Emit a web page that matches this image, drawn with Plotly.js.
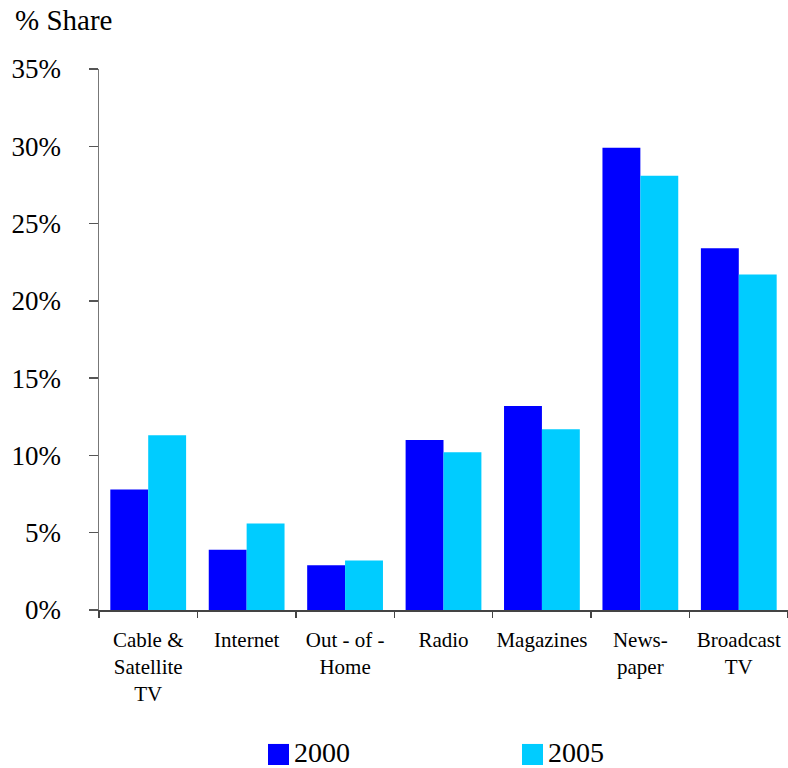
<!DOCTYPE html>
<html>
<head>
<meta charset="utf-8">
<script src="https://cdn.plot.ly/plotly-3.0.1.min.js"></script>
<style>html,body{margin:0;padding:0;background:#fff;}#chart{width:788px;height:768px;}</style>
</head>
<body>
<div id="chart"></div>
<script>
const categories = ["Cable & Satellite TV", "Internet", "Out-of-Home", "Radio", "Magazines", "Newspaper", "Broadcast TV"];
const tickLabels = ["Cable &amp;<br>Satellite<br>TV", "Internet", "Out - of -<br>Home", "Radio", "Magazines", "News-<br>paper", "Broadcast<br>TV"];
const share2000 = [7.8, 3.9, 2.9, 11.0, 13.2, 29.9, 23.4];
const share2005 = [11.3, 5.6, 3.2, 10.2, 11.7, 28.1, 21.7];
const seriesNames = ["2000", "2005"];
const seriesColors = ["#0000FF", "#00CCFF"];
const yTickStep = 5;
const yMax = 35;

const FONT = 'Liberation Serif, Times New Roman, Times, serif';

const traces = [share2000, share2005].map((vals, i) => ({
  type: 'bar',
  name: seriesNames[i],
  x: categories,
  y: vals,
  marker: {color: seriesColors[i], line: {width: 0}},
  showlegend: false,
  hoverinfo: 'x+y'
}));

// custom legend (large square swatches)
const legendX = [0.2453, 0.6139];
const swatchW = 0.0305;
const shapes = seriesNames.map((n, i) => ({
  type: 'rect', xref: 'paper', yref: 'paper',
  x0: legendX[i], x1: legendX[i] + swatchW, y0: -0.2865, y1: -0.2476,
  fillcolor: seriesColors[i], line: {width: 0}
}));
const annotations = seriesNames.map((n, i) => ({
  xref: 'paper', yref: 'paper', x: legendX[i] + swatchW + 0.006, y: -0.263,
  xanchor: 'left', yanchor: 'middle', text: n, showarrow: false, borderpad: 0,
  font: {family: FONT, size: 28, color: '#000'}
}));

const layout = {
  width: 788, height: 768,
  margin: {l: 99, r: 0, t: 69, b: 158},
  paper_bgcolor: '#fff', plot_bgcolor: '#fff',
  font: {family: FONT, color: '#000'},
  title: {text: '% Share', x: 0.019, xanchor: 'left', xref: 'container',
          y: 0.974, yanchor: 'middle', yref: 'container',
          font: {family: FONT, size: 29, color: '#000'}},
  barmode: 'group', bargap: 0.23, bargroupgap: 0,
  xaxis: {
    type: 'category', categoryorder: 'array', categoryarray: categories,
    tickmode: 'array', tickvals: categories, ticktext: tickLabels, tickangle: 0,
    showline: true, linecolor: '#444', linewidth: 1.5,
    ticks: 'outside', tickson: 'boundaries', ticklen: 6, tickcolor: '#444', tickwidth: 1.5,
    ticklabelstandoff: 10,
    tickfont: {family: FONT, size: 21, color: '#000'},
    showgrid: false, zeroline: false, fixedrange: true
  },
  yaxis: {
    range: [0, yMax], tickmode: 'linear', tick0: 0, dtick: yTickStep, ticksuffix: '%',
    showline: true, linecolor: '#777', linewidth: 1.5,
    ticks: 'outside', ticklen: 9, tickcolor: '#555', tickwidth: 1.5,
    ticklabelstandoff: 22,
    tickfont: {family: FONT, size: 27, color: '#000'},
    showgrid: false, zeroline: false, fixedrange: true
  },
  shapes: shapes,
  annotations: annotations
};

Plotly.newPlot('chart', traces, layout, {displayModeBar: false, staticPlot: true});
</script>
</body>
</html>
